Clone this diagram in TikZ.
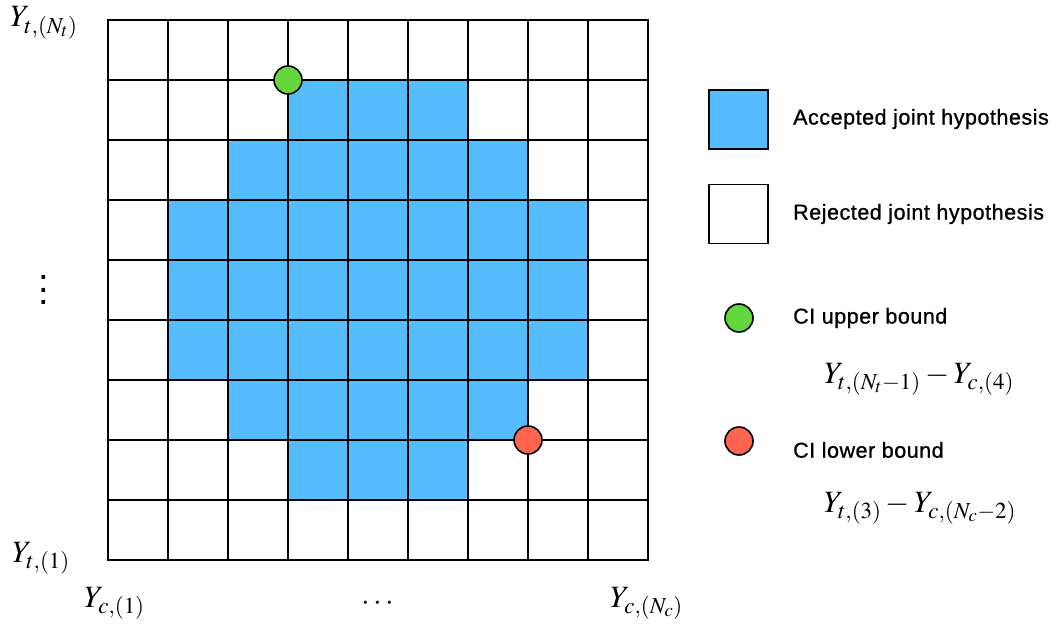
\documentclass[tikz,border=0pt]{standalone}
\usepackage{mathptmx}
\usepackage{fontspec}
\setmainfont{Liberation Sans}
\newfontfamily\legfont{Liberation Sans}[FakeBold=1,LetterSpace=2.5]
\definecolor{accblue}{RGB}{85,189,253}
\definecolor{ubgreen}{RGB}{100,214,62}
\definecolor{lbred}{RGB}{253,101,80}
\begin{document}
\begin{tikzpicture}[x=1pt,y=-1pt,
  gridline/.style={line width=2.2pt,line cap=rect},
  legbox/.style={draw=black,line width=1.8pt,minimum size=59pt,inner sep=0pt},
  dot/.style={circle,draw=black,line width=1.6pt,minimum size=28pt,inner sep=0pt},
  legtext/.style={anchor=west,inner sep=0pt,font=\legfont\fontsize{21.5}{24}\selectfont},
  mathlbl/.style={inner sep=0pt,font=\fontsize{31}{34}\selectfont}]
\useasboundingbox (0,0) rectangle (1058,626);
% accepted cells
\foreach \r/\a/\b in {1/3/6,2/2/7,3/1/8,4/1/8,5/1/8,6/2/7,7/3/6}{
  \fill[accblue] ({108+60*\a},{20+60*\r}) rectangle ({108+60*\b},{80+60*\r});
}
% grid
\foreach \i in {0,...,9}{
  \draw[gridline] ({108+60*\i},20) -- ({108+60*\i},560);
  \draw[gridline] (108,{20+60*\i}) -- (648,{20+60*\i});
}
% bound markers
\node[dot,fill=ubgreen] (ub) at (288,80) {};
\node[dot,fill=lbred] (lb) at (528,440) {};
% axis labels
\node[mathlbl,anchor=base west] (ytn) at (10,27) {$Y_{t,(N_t)}$};
\node[inner sep=0pt,font=\fontsize{38}{12.5}\selectfont\rmfamily] (vd) at (44,290)
  {\vbox{\baselineskip=12.5pt\hbox{.}\hbox{.}\hbox{.}}};
\node[mathlbl,anchor=base west] (yt1) at (12,562) {$Y_{t,(1)}$};
\node[mathlbl,anchor=base west] (yc1) at (84,607) {$Y_{c,(1)}$};
\node[mathlbl] (cd) at (378,604) {$\cdots$};
\node[mathlbl,anchor=base west] (ycn) at (610,607) {$Y_{c,(N_c)}$};
% legend
\node[legbox,fill=accblue] (accbox) at (738.5,119.5) {};
\node[legbox,fill=white] (rejbox) at (738.5,214) {};
\node[legtext] (acctext) at (793,119) {Accepted joint hypothesis};
\node[legtext] (rejtext) at (793,214) {Rejected joint hypothesis};
\node[dot,fill=ubgreen] (ubleg) at (739,318) {};
\node[legtext] (ubtext) at (793,318) {CI upper bound};
\node[mathlbl,anchor=base] (ubform) at (919,383) {$Y_{t,(N_t-1)}-Y_{c,(4)}$};
\node[dot,fill=lbred] (lbleg) at (739,441) {};
\node[legtext] (lbtext) at (793,450) {CI lower bound};
\node[mathlbl,anchor=base] (lbform) at (920,512) {$Y_{t,(3)}-Y_{c,(N_c-2)}$};
\end{tikzpicture}
\end{document}
